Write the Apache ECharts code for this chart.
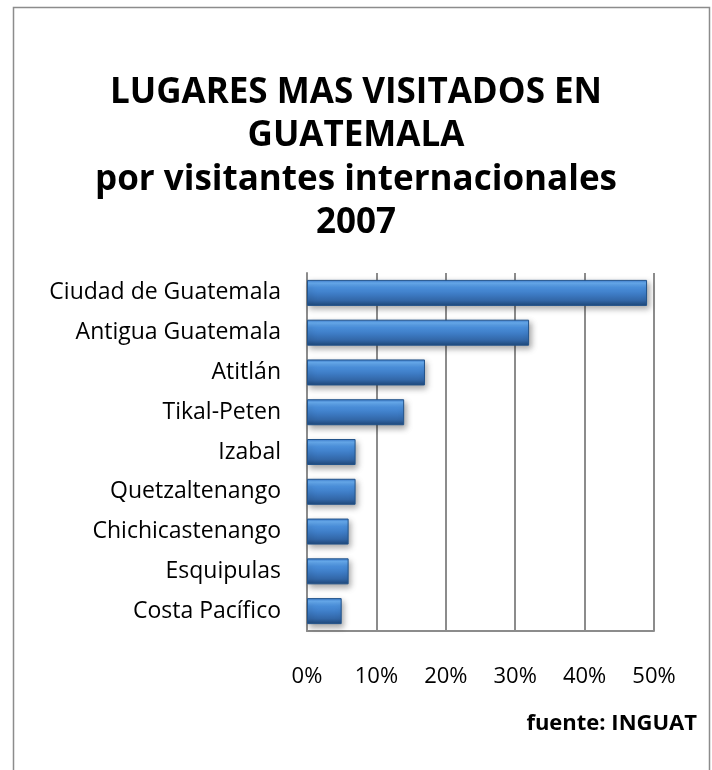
<!DOCTYPE html>
<html>
<head>
<meta charset="utf-8">
<script src="https://cdn.jsdelivr.net/npm/echarts@6/dist/echarts.min.js"></script>
<style>
html,body{margin:0;padding:0;background:#fff;}
#c{width:712px;height:770px;}
</style>
</head>
<body>
<div id="c"></div>
<script>
const categories = ["Ciudad de Guatemala","Antigua Guatemala","Atitlán","Tikal-Peten","Izabal","Quetzaltenango","Chichicastenango","Esquipulas","Costa Pacífico"];
const values = [0.49, 0.32, 0.17, 0.14, 0.07, 0.07, 0.06, 0.06, 0.05];
const titleLines = ["LUGARES MAS VISITADOS EN","GUATEMALA","por visitantes internacionales","2007"];
const sourceText = "fuente: INGUAT";

const FONT = "Open Sans";
const chart = echarts.init(document.getElementById('c'), null, {renderer:'canvas'});
chart.setOption({
  backgroundColor:'#fff',
  animation:false,
  title:{
    text: titleLines.join('\n'),
    left:'center', top:66,
    textStyle:{fontFamily:FONT, fontWeight:'bold', fontSize:35, lineHeight:43.5, color:'#000'}
  },
  graphic:[
    {type:'polyline', shape:{points:[[13.5,780],[13.5,7.5],[709.5,7.5],[709.5,780]]},
     style:{stroke:'#8c8c8c', lineWidth:1.5, fill:null}, silent:true},
    {type:'text', right:15, top:713, style:{text:sourceText, fontFamily:FONT, fontWeight:'bold', fontSize:22, fill:'#000'}}
  ],
  grid:{left:307, right:58, top:273, bottom:139},
  xAxis:{
    type:'value', min:0, max:0.5, interval:0.1,
    axisLine:{show:true, lineStyle:{color:'#8c8c8c', width:2}},
    axisTick:{show:false},
    splitLine:{show:true, lineStyle:{color:'#8c8c8c', width:2}},
    axisLabel:{margin:35, fontFamily:FONT, fontSize:22, color:'#000',
      formatter:v=>Math.round(v*100)+'%'}
  },
  yAxis:{
    type:'category', data:categories, inverse:true,
    axisLine:{show:true, lineStyle:{color:'#8c8c8c', width:2}},
    axisTick:{show:false},
    axisLabel:{margin:26, fontFamily:FONT, fontSize:23, color:'#000'}
  },
  series:[{
    type:'bar', data:values, barWidth:26,
    itemStyle:{
      borderColor:'#22538a', borderWidth:1,
      shadowColor:'rgba(0,0,0,0.35)', shadowBlur:6, shadowOffsetX:2, shadowOffsetY:3,
      color:new echarts.graphic.LinearGradient(0,0,0,1,[
        {offset:0, color:'#3a7acb'},
        {offset:0.12, color:'#68adf1'},
        {offset:0.3, color:'#4b90dc'},
        {offset:0.55, color:'#3d7bc4'},
        {offset:0.8, color:'#3266a6'},
        {offset:1, color:'#1e487a'}
      ])
    }
  }]
});
</script>
</body>
</html>
